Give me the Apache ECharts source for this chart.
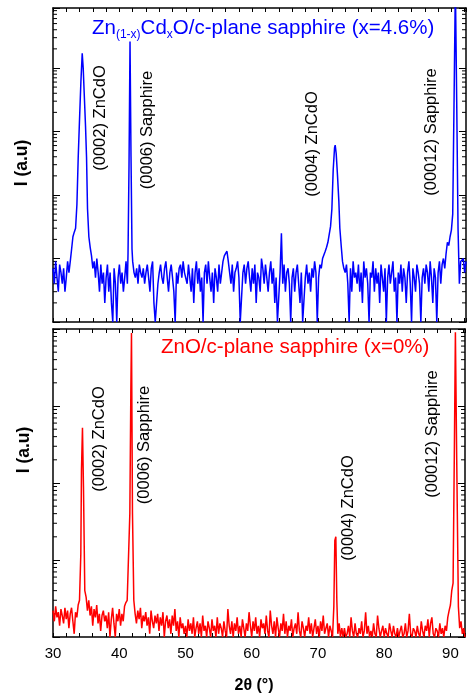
<!DOCTYPE html>
<html>
<head>
<meta charset="utf-8">
<script src="https://cdn.jsdelivr.net/npm/echarts@6/dist/echarts.min.js"></script>
<style>
html,body{margin:0;padding:0;background:#fff}
#main{width:468px;height:698px}
</style>
</head>
<body>
<div id="main"></div>
<script>
// scan grid: 2theta from 30 in 0.2 deg steps
var scanStart = 30, scanStep = 0.2;
var xTickLabels = [30, 40, 50, 60, 70, 80, 90];

// Zn(1-x)CdxO film, background counts (a.u.)
var blueNoise = [
  7, 4, 9, 5, 3, 8, 6, 4, 7, 3,
  5, 9, 6, 10, 8, 12, 20, 25, 28, 40,
  20, 20, 20, 20, 20, 20, 20, 20, 20, 20,
  7, 9, 5, 10, 6, 3, 8, 4, 6, 2,
  5, 8, 3, 6, 2, 1, 7, 4, 1, 5,
  8, 4, 6, 3, 5, 9, 4, 6, 6, 6,
  9, 6, 5, 7, 4, 8, 6, 5, 7, 4,
  6, 8, 5, 3, 7, 9, 2, 1, 1, 4,
  6, 8, 5, 4, 7, 9, 5, 3, 6, 8,
  5, 3, 1, 6, 4, 7, 8, 5, 9, 6,
  6, 4, 8, 5, 3, 7, 2, 6, 9, 4,
  7, 3, 5, 1, 6, 8, 4, 9, 5, 3,
  6, 2, 7, 5, 3, 8, 4, 6, 9, 11,
  12, 13, 9, 6, 4, 8, 3, 6, 7, 9,
  5, 1, 1, 6, 8, 4, 7, 9, 5, 3,
  7, 4, 8, 2, 6, 5, 3, 10, 7, 4,
  8, 5, 3, 6, 9, 4, 7, 2, 5, 1,
  1, 6, 25, 4, 8, 3, 6, 7, 4, 1,
  5, 7, 3, 6, 8, 4, 2, 6, 1, 1,
  5, 8, 4, 6, 3, 7, 5, 9, 6, 1,
  5, 8, 7, 10, 10, 10, 10, 10, 10, 10,
  10, 10, 10, 10, 10, 10, 10, 10, 10, 7,
  6, 8, 4, 1, 7, 3, 9, 5, 6, 4,
  8, 3, 6, 2, 9, 5, 7, 4, 1, 6,
  5, 9, 3, 7, 4, 6, 2, 8, 5, 3,
  7, 1, 5, 8, 4, 6, 9, 3, 5, 1,
  6, 4, 8, 3, 7, 5, 2, 6, 9, 4,
  1, 7, 5, 3, 8, 6, 4, 1, 5, 7,
  4, 8, 6, 3, 9, 5, 2, 7, 5, 1,
  6, 9, 4, 8, 10, 7, 12, 12, 12, 12,
  12, 12, 12, 12, 12, 12, 12, 12, 9, 10,
  6, 9
];
// peaks [2theta, I]
var bluePeak0002 = [[32.6, 9], [32.8, 14], [33.0, 22], [33.2, 26], [33.4, 30], [33.6, 70], [33.8, 400], [34.0, 1600], [34.2, 6000], [34.4, 17000], [34.55, 10000], [34.7, 4000], [34.9, 1200], [35.05, 400], [35.2, 60], [35.4, 22], [35.6, 15], [35.8, 11], [36.0, 7]];
var bluePeak0006 = [[41.3, 12], [41.45, 300], [41.6, 26000], [41.75, 400], [41.9, 14]];
var bluePeak0004 = [[70.8, 10], [71.0, 13], [71.2, 15], [71.4, 18], [71.6, 24], [71.8, 32], [72.0, 60], [72.2, 250], [72.4, 550], [72.5, 610], [72.65, 450], [72.85, 200], [73.05, 80], [73.2, 30], [73.4, 16], [73.6, 9]];
var bluePeak00012 = [[89.2, 12], [89.4, 18], [89.6, 16], [89.8, 22], [90.0, 28], [90.2, 50], [90.4, 3000], [90.6, 200000], [90.8, 3000], [91.0, 30], [91.2, 4], [91.4, 9]];

// ZnO film
var redNoise = [
  2.2, 1.6, 2.5, 1.8, 2.1, 1.4, 2.3, 1.9, 1.5, 2.4,
  1.7, 2.2, 1.3, 2.0, 2.4, 1.6, 1.1, 2.1, 1.8, 2.6,
  3, 3, 3, 3, 3, 3, 2.2, 3.0, 1.9, 2.5,
  1.4, 2.3, 1.8, 2.6, 1.5, 2.0, 1.2, 1.9, 2.2, 1.6,
  1.9, 1.3, 2.1, 1.0, 1.7, 2.4, 1.5, 1.0, 2.0, 1.6,
  2.3, 1.4, 2.0, 1.6, 2.5, 2.8, 3, 3, 3, 3,
  3, 3, 2.0, 1.5, 2.2, 1.7, 2.4, 1.3, 1.9, 1.6,
  2.1, 1.4, 1.8, 1.1, 2.2, 1.6, 1.3, 1.9, 1.5, 2.0,
  1.2, 1.8, 1.4, 2.1, 1.0, 1.6, 1.9, 1.3, 1.7, 1.1,
  1.9, 1.4, 2.3, 1.2, 1.6, 1.0, 1.8, 1.3, 1.5, 1.1,
  1.4, 1.0, 1.7, 1.2, 1.5, 1.1, 1.8, 1.0, 1.3, 1.6,
  1.1, 1.5, 1.0, 1.9, 1.2, 1.4, 1.0, 1.6, 1.3, 1.0,
  1.7, 1.2, 1.4, 1.0, 1.8, 1.1, 1.5, 1.3, 1.0, 1.6,
  1.2, 1.0, 2.3, 1.4, 1.1, 1.6, 1.0, 1.5, 1.2, 1.8,
  1.1, 1.4, 1.0, 1.7, 1.3, 1.0, 1.5, 1.2, 2.1, 1.4,
  1.0, 1.6, 1.2, 1.8, 1.1, 1.4, 1.0, 1.7, 1.3, 1.5,
  1.1, 1.9, 1.2, 1.0, 2.2, 1.4, 1.1, 1.6, 1.0, 1.8,
  1.3, 1.0, 1.5, 1.2, 2.0, 1.1, 1.6, 1.0, 1.4, 1.2,
  1.7, 1.0, 1.3, 1.5, 1.1, 2.1, 1.2, 1.0, 1.6, 1.3,
  1.0, 1.4, 1.2, 1.8, 1.1, 1.5, 1.0, 1.3, 1.7, 1.1,
  1.4, 1.0, 1.6, 1.2, 1.9, 1.1, 1.3, 1.5, 1.0, 1.4,
  1.2, 1.0, 2, 2, 2, 1.1, 1.5, 1.0, 1.3, 1.0,
  1.3, 1.0, 1.1, 1.4, 1.0, 1.8, 1.2, 1.0, 1.5, 1.1,
  1.0, 1.3, 1.1, 1.6, 1.0, 1.2, 2.1, 1.1, 1.4, 1.0,
  1.2, 1.0, 1.5, 1.1, 1.0, 1.9, 1.3, 1.0, 1.2, 1.4,
  1.0, 1.3, 1.1, 1.0, 1.5, 1.2, 1.0, 1.4, 1.1, 1.0,
  1.3, 1.0, 1.2, 1.4, 1.0, 1.1, 1.5, 1.0, 1.2, 2.0,
  1.1, 1.0, 1.3, 1.2, 1.0, 1.4, 1.1, 1.0, 1.6, 1.2,
  1.0, 1.4, 1.2, 1.7, 1.0, 1.5, 1.8, 1.1, 1.0, 1.3,
  1.2, 1.0, 1.5, 1.1, 1.3, 1.0, 1.4, 1.2, 1.8, 2.0,
  2, 2, 2, 2, 2, 2, 2, 2, 1.6, 1.1,
  1.3, 1.0
];
var redPeak0002 = [[34.0, 3], [34.2, 12], [34.3, 150], [34.45, 520], [34.6, 90], [34.8, 4], [35.0, 3.3]];
var redPeak0006 = [[41.4, 3], [41.6, 40], [41.75, 1500], [41.85, 8900], [42.0, 40], [42.2, 3]];
var redPeak0004 = [[72.4, 2.5], [72.55, 18], [72.7, 20], [72.85, 3]];
var redPeak00012 = [[89.8, 2.2], [90.0, 2.6], [90.2, 4], [90.4, 5], [90.6, 300], [90.75, 9100], [90.95, 200], [91.2, 2.5], [91.4, 1.3]];

function buildScan(noise, peaks) {
    var pts = [];
    for (var i = 0; i < noise.length; i++) {
        var a = +(scanStart + i * scanStep).toFixed(2);
        var inPeak = peaks.some(function (g) { return a >= g[0][0] && a <= g[g.length - 1][0]; });
        if (!inPeak) pts.push([a, noise[i]]);
    }
    peaks.forEach(function (g) { pts = pts.concat(g); });
    pts.sort(function (p, q) { return p[0] - q[0]; });
    return pts;
}

var blueData = buildScan(blueNoise, [bluePeak0002, bluePeak0006, bluePeak0004, bluePeak00012]);
var redData = buildScan(redNoise, [redPeak0002, redPeak0006, redPeak0004, redPeak00012]);

// log minor tick positions 2..9 x 10^k (echarts spaces log minor ticks evenly, so draw them ourselves)
function minorVals(max) {
    var out = [];
    for (var d = 1; d < max; d *= 10) {
        for (var m = 2; m <= 9; m++) {
            if (m * d < max) out.push([30, m * d]);
        }
    }
    return out;
}

var font = 'Liberation Sans, Arial, Helvetica, sans-serif';
var lineStyle = {color: '#000', width: 1.5};

function xAx(gi, pos, labels) {
    return {
        type: 'value', gridIndex: gi, position: pos, min: 30, max: 92.2, interval: 2,
        axisLine: {show: true, onZero: false, lineStyle: lineStyle},
        axisTick: {show: true, inside: true, length: 4, lineStyle: {color: '#000', width: 1}},
        axisLabel: {
            show: labels, margin: 9, fontSize: 15, color: '#000', fontFamily: font,
            formatter: function (v) { return xTickLabels.indexOf(v) >= 0 ? String(v) : ''; }
        },
        splitLine: {show: false}
    };
}
function yAx(gi, pos, max) {
    return {
        type: 'log', logBase: 10, gridIndex: gi, position: pos, min: 1, max: max,
        axisLine: {show: true, onZero: false, lineStyle: lineStyle},
        axisTick: {show: true, inside: true, length: 7, lineStyle: {color: '#000', width: 1}},
        axisLabel: {show: false},
        splitLine: {show: false}
    };
}

function minorTickSeries(xi, yi, max) {
    return {
        type: 'custom', xAxisIndex: xi, yAxisIndex: yi, data: minorVals(max), silent: true, clip: false,
        renderItem: function (params, api) {
            var p = api.coord([api.value(0), api.value(1)]);
            var cs = params.coordSys;
            var st = {stroke: '#000', lineWidth: 1};
            return {
                type: 'group', children: [
                    {type: 'line', shape: {x1: cs.x, y1: p[1], x2: cs.x + 4, y2: p[1]}, style: st},
                    {type: 'line', shape: {x1: cs.x + cs.width, y1: p[1], x2: cs.x + cs.width - 4, y2: p[1]}, style: st}
                ]
            };
        }
    };
}

function rotText(txt, x, y) {
    return {
        type: 'text', x: x, y: y, rotation: Math.PI / 2,
        style: {text: txt, x: 0, y: 0, align: 'center', verticalAlign: 'middle', fontSize: 16.5, fill: '#000', fontFamily: font}
    };
}

var myChart = echarts.init(document.getElementById('main'));
myChart.setOption({
    animation: false,
    backgroundColor: '#fff',
    grid: [
        {left: 53, right: 2, top: 8, height: 314},
        {left: 53, right: 2, top: 329, height: 308}
    ],
    xAxis: [xAx(0, 'bottom', false), xAx(0, 'top', false), xAx(1, 'bottom', true), xAx(1, 'top', false)],
    yAxis: [yAx(0, 'left', 88000), yAx(0, 'right', 88000), yAx(1, 'left', 10000), yAx(1, 'right', 10000)],
    series: [
        {type: 'line', xAxisIndex: 0, yAxisIndex: 0, data: blueData, showSymbol: false, clip: true,
            lineStyle: {color: '#0000ff', width: 1.5}},
        {type: 'line', xAxisIndex: 2, yAxisIndex: 2, data: redData, showSymbol: false, clip: true,
            lineStyle: {color: '#ff0000', width: 1.5}},
        minorTickSeries(0, 0, 88000),
        minorTickSeries(2, 2, 10000)
    ],
    graphic: [
        {type: 'text', x: 92, y: 28, style: {
            text: 'Zn{s|(1-x)}Cd{s|x}O/c-plane sapphire (x=4.6%)', align: 'left', verticalAlign: 'middle',
            fontSize: 20.5, fill: '#0000ff', fontFamily: font,
            rich: {s: {fontSize: 12, fill: '#0000ff', fontFamily: font, padding: [14, 0, 0, 0]}}
        }},
        {type: 'text', x: 161, y: 347, style: {
            text: 'ZnO/c-plane sapphire (x=0%)', align: 'left', verticalAlign: 'middle',
            fontSize: 20.5, fill: '#ff0000', fontFamily: font
        }},
        rotText('(0002) ZnCdO', 100, 118),
        rotText('(0006) Sapphire', 147, 130),
        rotText('(0004) ZnCdO', 312, 144),
        rotText('(00012) Sapphire', 431, 132),
        rotText('(0002) ZnCdO', 99, 439),
        rotText('(0006) Sapphire', 144, 445),
        rotText('(0004) ZnCdO', 348, 508),
        rotText('(00012) Sapphire', 432, 434),
        {type: 'text', x: 22, y: 163, rotation: Math.PI / 2, style: {
            text: 'I (a.u)', x: 0, y: 0, align: 'center', verticalAlign: 'middle',
            fontSize: 17.5, fontWeight: 'bold', fill: '#000', fontFamily: font
        }},
        {type: 'text', x: 24, y: 450, rotation: Math.PI / 2, style: {
            text: 'I (a.u)', x: 0, y: 0, align: 'center', verticalAlign: 'middle',
            fontSize: 17.5, fontWeight: 'bold', fill: '#000', fontFamily: font
        }},
        {type: 'text', x: 254, y: 686, style: {
            text: '2θ (°)', align: 'center', verticalAlign: 'middle',
            fontSize: 16, fontWeight: 'bold', fill: '#000', fontFamily: font
        }}
    ]
});
</script>
</body>
</html>
